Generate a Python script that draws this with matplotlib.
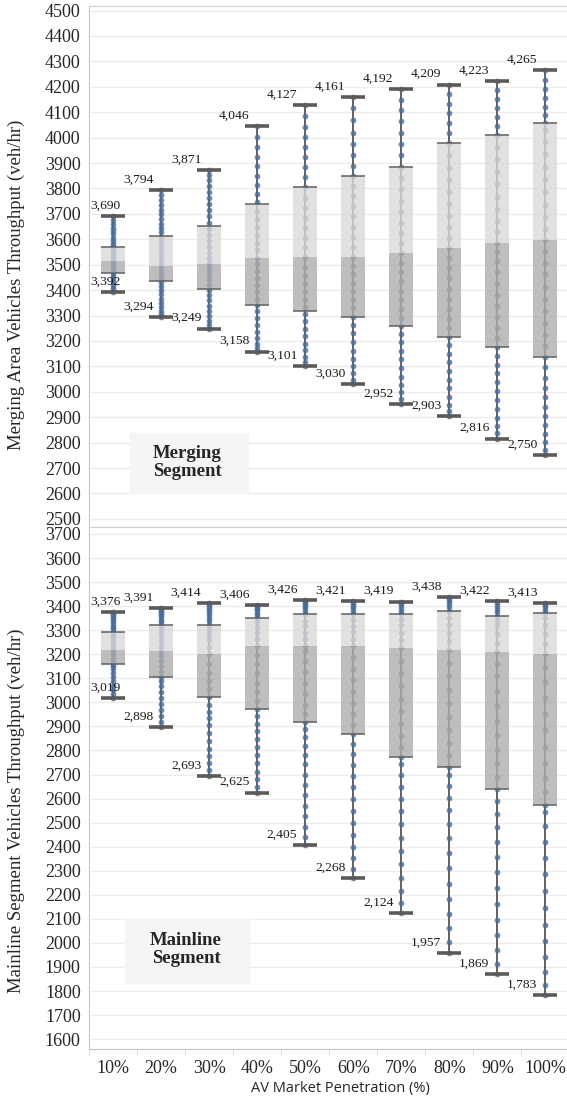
import numpy as np
import matplotlib
matplotlib.use("Agg")
import matplotlib.pyplot as plt
from matplotlib.patches import Rectangle

# categories
cats = ['10%', '20%', '30%', '40%', '50%', '60%', '70%', '80%', '90%', '100%']

# Merging segment box stats (veh/hr)
merge_hi = [3690, 3794, 3871, 4046, 4127, 4161, 4192, 4209, 4223, 4265]
merge_q3 = [3570, 3612, 3654, 3739, 3806, 3849, 3886, 3980, 4011, 4059]
merge_med = [3515, 3493, 3503, 3525, 3531, 3529, 3545, 3565, 3587, 3598]
merge_q1 = [3469, 3434, 3404, 3342, 3318, 3296, 3259, 3217, 3175, 3138]
merge_lo = [3392, 3294, 3249, 3158, 3101, 3030, 2952, 2903, 2816, 2750]

# Mainline segment box stats (veh/hr)
main_hi = [3376, 3391, 3414, 3406, 3426, 3421, 3419, 3438, 3422, 3413]
main_q3 = [3294, 3322, 3322, 3349, 3366, 3367, 3367, 3380, 3360, 3373]
main_med = [3218, 3214, 3201, 3234, 3234, 3234, 3225, 3218, 3208, 3201]
main_q1 = [3159, 3107, 3023, 2972, 2917, 2867, 2771, 2732, 2638, 2573]
main_lo = [3019, 2898, 2693, 2625, 2405, 2268, 2124, 1957, 1869, 1783]

# individual runs
m10 = [3392, 3399, 3410, 3421, 3433, 3445, 3456, 3466, 3474, 3482, 3490, 3497, 3504, 3511, 3518, 3525,
       3533, 3541, 3550, 3558, 3566, 3574, 3583, 3594, 3606, 3619, 3632, 3646, 3661, 3675, 3690]
m20 = [3294, 3305, 3318, 3333, 3349, 3366, 3384, 3401, 3417, 3431, 3446, 3461, 3476, 3490, 3505, 3521,
       3538, 3556, 3574, 3592, 3611, 3628, 3645, 3662, 3680, 3698, 3717, 3736, 3755, 3774, 3794]
m30 = [3249, 3262, 3279, 3298, 3318, 3339, 3360, 3381, 3402, 3420, 3438, 3456, 3474, 3491, 3508, 3527,
       3548, 3570, 3593, 3617, 3642, 3666, 3690, 3714, 3738, 3762, 3786, 3810, 3833, 3852, 3871]
m40 = [3158, 3171, 3190, 3212, 3236, 3262, 3289, 3316, 3342, 3367, 3393, 3420, 3448, 3476, 3502, 3528,
       3556, 3586, 3617, 3649, 3681, 3713, 3745, 3779, 3814, 3850, 3887, 3924, 3962, 4002, 4046]
m50 = [3101, 3116, 3138, 3163, 3190, 3219, 3248, 3277, 3305, 3333, 3362, 3392, 3423, 3456, 3490, 3530,
       3568, 3606, 3645, 3684, 3724, 3764, 3805, 3846, 3886, 3925, 3963, 4001, 4042, 4085, 4127]
m60 = [3030, 3048, 3072, 3100, 3130, 3162, 3196, 3230, 3264, 3296, 3328, 3362, 3396, 3430, 3463, 3496,
       3529, 3568, 3608, 3648, 3690, 3731, 3771, 3810, 3849, 3890, 3932, 3975, 4020, 4068, 4116, 4161]
m70 = [2952, 2972, 2998, 3028, 3060, 3094, 3128, 3162, 3196, 3228, 3259, 3292, 3326, 3362, 3398, 3434,
       3470, 3507, 3545, 3584, 3624, 3666, 3709, 3752, 3796, 3841, 3886, 3931, 3975, 4020, 4064, 4108,
       4150, 4192]
m80 = [2903, 2924, 2950, 2980, 3013, 3047, 3082, 3116, 3150, 3184, 3217, 3252, 3288, 3326, 3366, 3406,
       3446, 3486, 3526, 3565, 3606, 3648, 3692, 3738, 3786, 3834, 3882, 3930, 3980, 4020, 4058, 4096,
       4134, 4172, 4209]
m90 = [2816, 2838, 2866, 2898, 2932, 2967, 3002, 3037, 3072, 3106, 3140, 3175, 3212, 3252, 3294, 3338,
       3382, 3426, 3470, 3514, 3552, 3587, 3628, 3672, 3718, 3766, 3816, 3866, 3916, 3964, 4011, 4046,
       4082, 4118, 4154, 4189, 4223]
m100 = [2750, 2772, 2801, 2834, 2869, 2905, 2942, 2979, 3016, 3054, 3096, 3138, 3180, 3224, 3270, 3318,
        3366, 3414, 3462, 3508, 3554, 3598, 3642, 3688, 3736, 3786, 3836, 3886, 3936, 3984, 4030, 4059,
        4090, 4122, 4156, 4192, 4228, 4265]
merge_pts = [m10, m20, m30, m40, m50, m60, m70, m80, m90, m100]

l10 = [3019, 3034, 3052, 3070, 3088, 3106, 3122, 3138, 3150, 3160, 3172, 3186, 3200, 3212, 3222, 3234,
       3246, 3258, 3270, 3282, 3294, 3304, 3314, 3323, 3332, 3341, 3350, 3358, 3366, 3372, 3376]
l20 = [2898, 2920, 2945, 2970, 2995, 3020, 3044, 3066, 3087, 3107, 3128, 3150, 3172, 3194, 3214, 3234,
       3254, 3274, 3292, 3308, 3322, 3334, 3344, 3353, 3362, 3370, 3377, 3383, 3388, 3391]
l30 = [2693, 2718, 2746, 2776, 2808, 2840, 2872, 2904, 2934, 2962, 2990, 3023, 3056, 3090, 3124, 3158,
       3201, 3232, 3258, 3282, 3302, 3322, 3338, 3352, 3364, 3375, 3385, 3394, 3402, 3409, 3414]
l40 = [2625, 2650, 2680, 2712, 2746, 2780, 2814, 2848, 2880, 2912, 2942, 2972, 3006, 3042, 3080, 3120,
       3160, 3198, 3234, 3264, 3290, 3312, 3332, 3349, 3362, 3373, 3382, 3390, 3397, 3402, 3406]
l50 = [2405, 2440, 2482, 2526, 2570, 2614, 2658, 2700, 2742, 2782, 2820, 2856, 2890, 2917, 2950, 2990,
       3034, 3080, 3126, 3172, 3212, 3234, 3262, 3290, 3316, 3340, 3366, 3380, 3392, 3402, 3410, 3417,
       3422, 3426]
l60 = [2268, 2306, 2352, 2400, 2450, 2500, 2550, 2600, 2648, 2694, 2740, 2784, 2826, 2867, 2906, 2950,
       2996, 3044, 3092, 3140, 3188, 3234, 3264, 3292, 3318, 3344, 3367, 3380, 3391, 3401, 3409, 3416,
       3421]
l70 = [2124, 2166, 2216, 2270, 2326, 2382, 2438, 2494, 2548, 2600, 2650, 2698, 2742, 2771, 2814, 2862,
       2912, 2964, 3016, 3068, 3120, 3172, 3225, 3258, 3290, 3320, 3346, 3367, 3381, 3393, 3403, 3411,
       3419]
l80 = [1957, 2004, 2060, 2120, 2182, 2246, 2310, 2374, 2436, 2496, 2552, 2604, 2652, 2696, 2732, 2780,
       2832, 2886, 2940, 2996, 3052, 3108, 3164, 3218, 3254, 3288, 3320, 3350, 3380, 3396, 3410, 3421,
       3431, 3438]
l90 = [1869, 1914, 1970, 2032, 2096, 2162, 2228, 2294, 2358, 2420, 2480, 2536, 2590, 2638, 2690, 2746,
       2804, 2864, 2924, 2986, 3048, 3110, 3160, 3208, 3248, 3284, 3316, 3340, 3360, 3376, 3390, 3402,
       3413, 3422]
l100 = [1783, 1826, 1880, 1942, 2008, 2076, 2146, 2216, 2286, 2354, 2420, 2484, 2544, 2573, 2626, 2686,
        2750, 2816, 2884, 2952, 3020, 3086, 3148, 3201, 3244, 3284, 3320, 3350, 3373, 3386, 3397, 3406,
        3413]
main_pts = [l10, l20, l30, l40, l50, l60, l70, l80, l90, l100]

SERIF = 'Liberation Serif'
TXT = '#262626'
DOT = '#4a6e98'
BOXW = 0.5


def draw_panel(ax, pts, hi, q3, med, q1, lo):
    x = np.arange(len(cats))
    # whisker line
    ax.vlines(x, lo, hi, color='#555555', lw=1.3, zorder=2)
    # dots
    for i, p in enumerate(pts):
        ax.scatter(np.full(len(p), i), p, s=17, color=DOT, alpha=0.8, lw=0, zorder=3)
    # two-tone box, a bit translucent so the dots show through faintly
    ax.bar(x, np.array(med) - np.array(q1), bottom=q1, width=BOXW, color='#aeaeae', alpha=0.8, zorder=4)
    ax.bar(x, np.array(q3) - np.array(med), bottom=med, width=BOXW, color='#dadada', alpha=0.8, zorder=4)
    ax.hlines(q3, x - BOXW / 2, x + BOXW / 2, color='#606060', lw=1.1, zorder=5)
    ax.hlines(q1, x - BOXW / 2, x + BOXW / 2, color='#606060', lw=1.1, zorder=5)
    # caps
    ax.hlines(hi, x - BOXW / 2, x + BOXW / 2, color='#5a5a5a', lw=2.6, zorder=5)
    ax.hlines(lo, x - BOXW / 2, x + BOXW / 2, color='#5a5a5a', lw=2.6, zorder=5)
    # value labels, sitting up-left of each cap
    for i in range(len(cats)):
        for v in (hi[i], lo[i]):
            if i == 0:
                ax.annotate(f'{v:,}', (-0.5, v), xytext=(1, 7.5), textcoords='offset points',
                            ha='left', va='center', fontsize=9.7, family=SERIF, color='#1a1a1a', zorder=6)
            else:
                ax.annotate(f'{v:,}', (i - 0.48, v), xytext=(0, 7.5), textcoords='offset points',
                            ha='center', va='center', fontsize=9.7, family=SERIF, color='#1a1a1a', zorder=6)

    ax.set_xlim(-0.5, 9.45)
    ax.grid(axis='y', color='#ececec', lw=1)
    ax.set_axisbelow(True)
    ax.spines['right'].set_visible(False)
    ax.spines['left'].set_color('#c8c8c8')
    ax.spines['top'].set_color('#d0d0d0')
    ax.spines['bottom'].set_color('#c0c0c0')
    ax.tick_params(axis='y', length=0, labelsize=13, labelcolor=TXT, pad=6)


fig = plt.figure(figsize=(5.67, 11.0), dpi=100)
ax1 = fig.add_axes([89 / 567, 1 - 527 / 1100, 1 - 89 / 567, 521 / 1100])
ax2 = fig.add_axes([89 / 567, 1 - 1049 / 1100, 1 - 89 / 567, 522 / 1100])

draw_panel(ax1, merge_pts, merge_hi, merge_q3, merge_med, merge_q1, merge_lo)
draw_panel(ax2, main_pts, main_hi, main_q3, main_med, main_q1, main_lo)

ax1.set_ylim(2468, 4518)
ax1.set_yticks(np.arange(2500, 4501, 100))
ax2.set_ylim(1559, 3729)
ax2.set_yticks(np.arange(1600, 3701, 100))
for ax in (ax1, ax2):
    for t in ax.get_yticklabels():
        t.set_family(SERIF)

ax1.set_xticks([])
ax2.set_xticks(np.arange(len(cats)))
ax2.set_xticklabels(cats, family=SERIF, fontsize=13, color=TXT)
ax2.set_xticks(np.arange(len(cats)) - 0.5, minor=True)
ax2.tick_params(axis='x', which='major', length=0, pad=8)
ax2.tick_params(axis='x', which='minor', length=5, color='#dddddd')
ax2.set_xlabel('AV Market Penetration (%)', family='Open Sans', fontsize=10.5, color=TXT)
ax2.xaxis.set_label_coords(0.525, -0.062)

ax1.set_ylabel('Merging Area Vehicles Throughput (veh/hr)', family=SERIF, fontsize=13.5, color=TXT)
ax2.set_ylabel('Mainline Segment Vehicles Throughput (veh/hr)', family=SERIF, fontsize=13.5, color=TXT)
ax1.yaxis.set_label_coords(-0.134, 0.464)
ax2.yaxis.set_label_coords(-0.134, 0.456)

# segment name boxes
ax1.add_patch(Rectangle((0.35, 2602), 2.46, 236, color='#f5f5f5', zorder=1))
ax1.text(1.55, 2722, 'Merging\nSegment', ha='center', va='center', family=SERIF, fontweight='bold',
         fontsize=13.5, color=TXT, linespacing=1.12, zorder=2)
ax2.add_patch(Rectangle((0.25, 1833), 2.58, 266, color='#f5f5f5', zorder=1))
ax2.text(1.52, 1972, 'Mainline\nSegment', ha='center', va='center', family=SERIF, fontweight='bold',
         fontsize=13.5, color=TXT, linespacing=1.12, zorder=2)

fig.savefig('out.png', dpi=100)
